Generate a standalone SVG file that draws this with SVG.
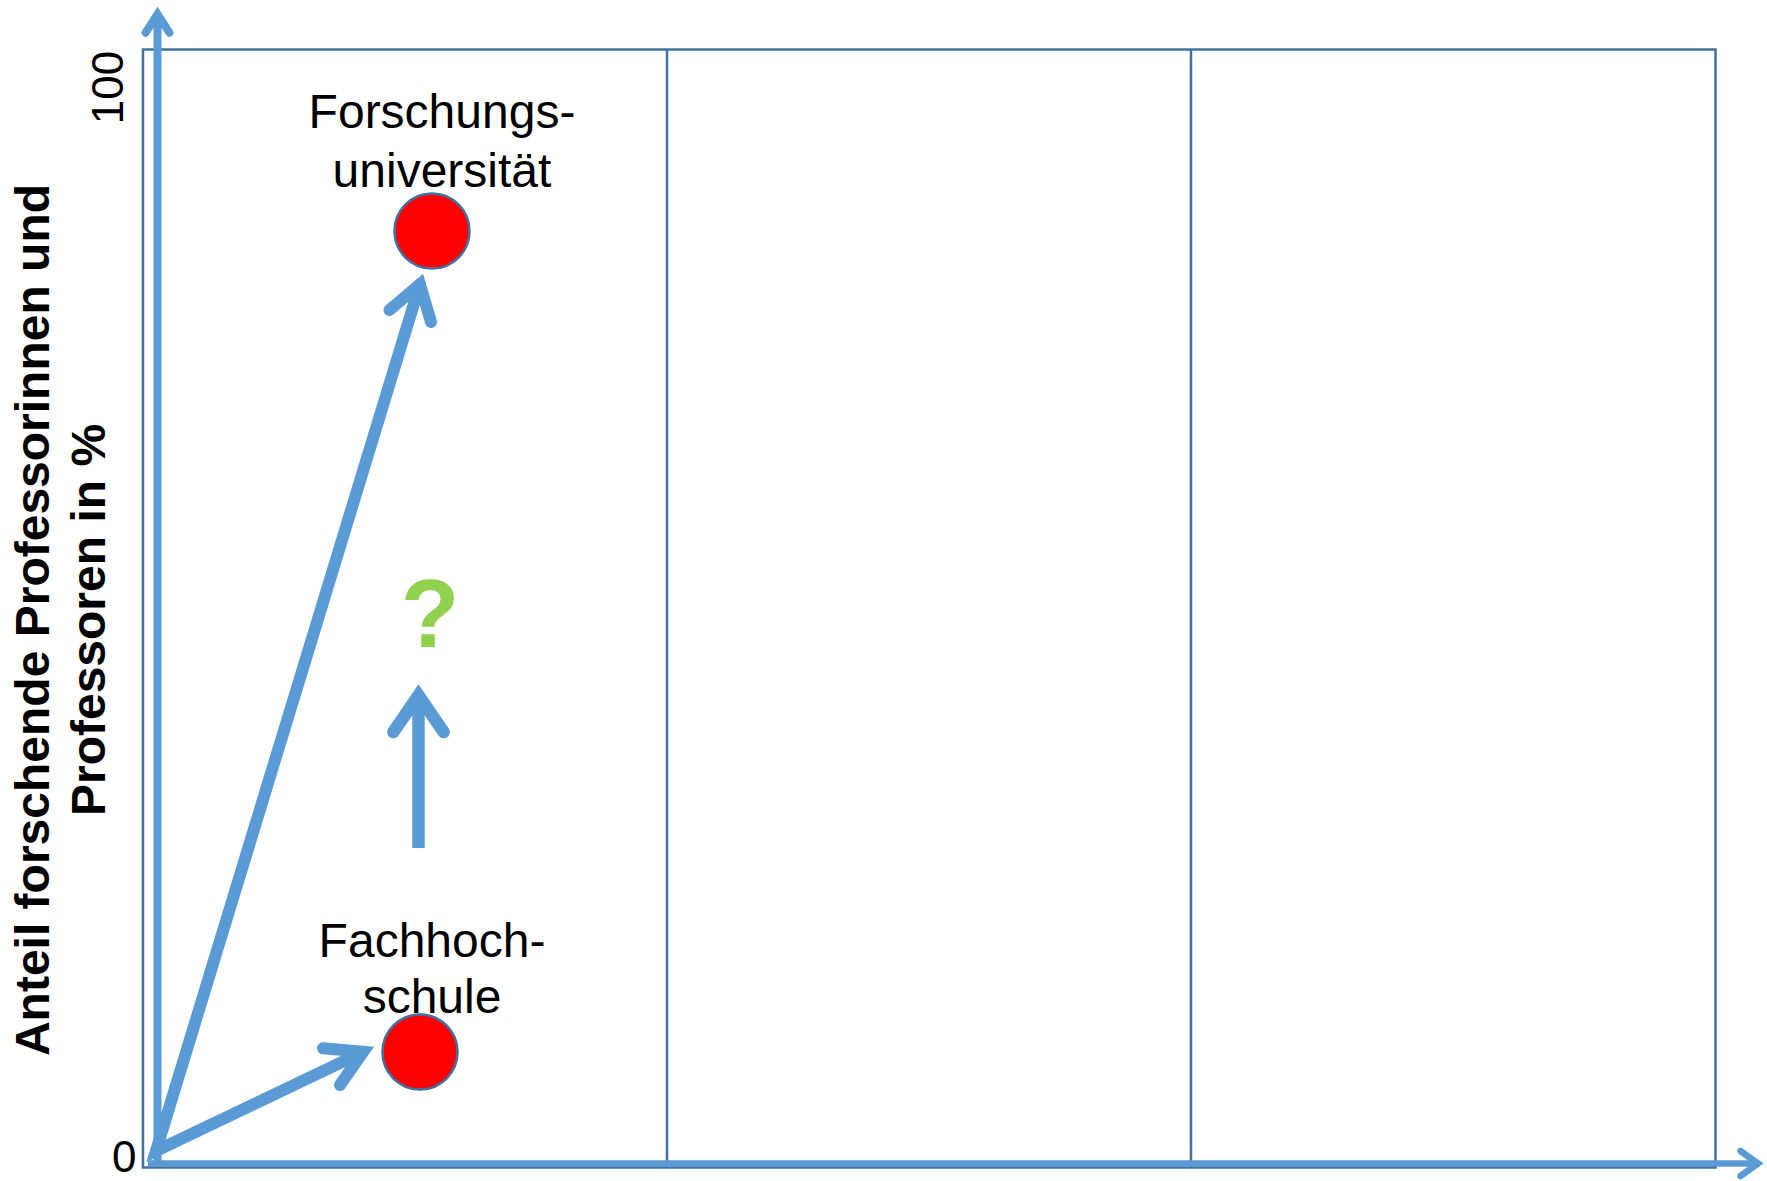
<svg xmlns="http://www.w3.org/2000/svg" width="1767" height="1181" viewBox="0 0 1767 1181">
  <style>
    .frame { fill: none; stroke: #41719C; stroke-width: 2.5; }
    .axis { fill: none; stroke: #5B9BD5; stroke-linecap: round; stroke-linejoin: miter; stroke-miterlimit: 6; }
    .shaft { fill: none; stroke: #5B9BD5; stroke-linecap: butt; }
    .dot { fill: #FF0000; stroke: #41719C; stroke-width: 2.5; }
    .lbl { font-family: "Liberation Sans", Arial, sans-serif; font-size: 48px; fill: #000; text-anchor: middle; }
    .tick { font-family: "Liberation Sans", Arial, sans-serif; font-size: 44px; fill: #000; }
    .ylab { font-family: "Liberation Sans", Arial, sans-serif; font-size: 48px; font-weight: bold; fill: #000; text-anchor: middle; }
    .q { font-family: "Liberation Sans", Arial, sans-serif; font-size: 96px; font-weight: bold; fill: #92D050; text-anchor: middle; }
  </style>

  <g id="chart-frame">
    <rect class="frame" x="143" y="49.5" width="1572.5" height="1118"/>
    <line class="frame" x1="667" y1="49.5" x2="667" y2="1167.5"/>
    <line class="frame" x1="1191" y1="49.5" x2="1191" y2="1167.5"/>
  </g>

  <g id="connectors">
    <!-- y axis -->
    <line class="shaft" x1="157.5" y1="1162" x2="157.5" y2="16" stroke-width="8"/>
    <polyline class="axis" points="145.5,32.7 157.5,14.2 169.5,32.7" stroke-width="8"/>
    <!-- x axis -->
    <line class="shaft" x1="148" y1="1163.5" x2="1756" y2="1163.5" stroke-width="6.5"/>
    <polyline class="axis" points="1740.5,1151 1758,1163.5 1740.5,1176" stroke-width="6.5"/>
    <!-- diagonal arrows from origin -->
    <polyline class="axis" points="363.2,1051.8 156,1151 419.9,284.2" stroke-width="12" stroke-linecap="butt"/>
    <polyline class="axis" points="389.5,310 419.9,284.2 431,322" stroke-width="12"/>
    <polyline class="axis" points="323,1048.3 363.2,1051.8 340,1085" stroke-width="12"/>
    <!-- small upward arrow -->
    <line class="shaft" x1="418.5" y1="848" x2="418.5" y2="697" stroke-width="12.5"/>
    <polyline class="axis" points="393.4,732 418.5,695.4 443.6,732" stroke-width="12.5"/>
  </g>

  <g id="node-forschungsuniversitaet">
    <circle class="dot" cx="432" cy="231" r="37.5"/>
    <text class="lbl" x="442" y="128">Forschungs-</text>
    <text class="lbl" x="442" y="187">universität</text>
  </g>

  <g id="node-fachhochschule">
    <circle class="dot" cx="420" cy="1052" r="37.5"/>
    <text class="lbl" x="432" y="957">Fachhoch-</text>
    <text class="lbl" x="432" y="1013">schule</text>
  </g>

  <g id="node-question">
    <text class="q" x="430" y="647">?</text>
  </g>

  <g id="axis-labels">
    <text class="tick" x="112" y="1172">0</text>
    <text class="tick" text-anchor="middle" transform="translate(123,87.5) rotate(-90)">100</text>
    <text class="ylab" transform="translate(49,620) rotate(-90)">Anteil forschende Professorinnen und</text>
    <text class="ylab" transform="translate(105,620) rotate(-90)">Professoren in %</text>
  </g>
</svg>
